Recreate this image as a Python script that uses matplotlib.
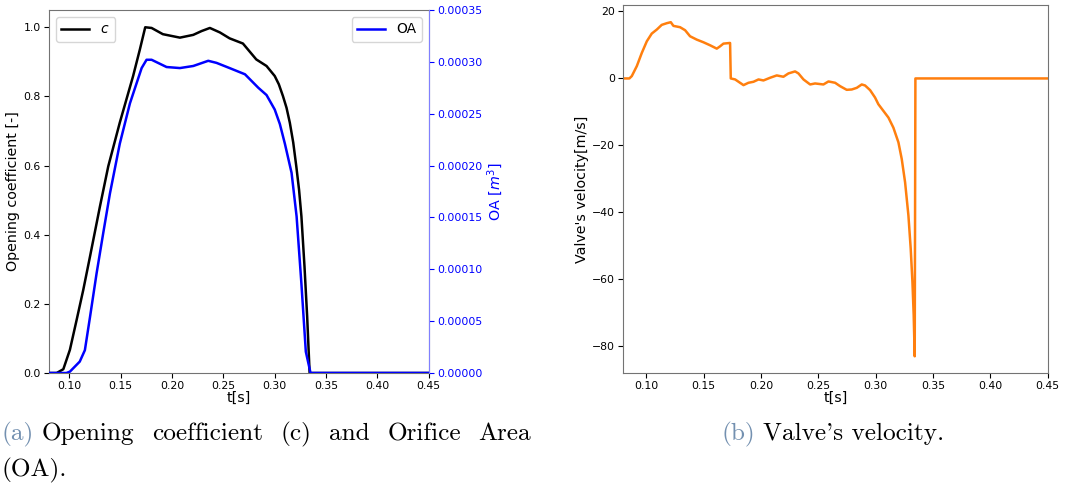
import numpy as np
import matplotlib
matplotlib.use('Agg')
import matplotlib.pyplot as plt

# opening coefficient c [-]
t_c = [0.08, 0.0875, 0.094, 0.1004, 0.107, 0.1134, 0.12, 0.1297, 0.1378, 0.149,
       0.162, 0.1686, 0.1738, 0.18, 0.191, 0.2076, 0.2206, 0.2287, 0.2368, 0.2466,
       0.256, 0.269, 0.282, 0.292, 0.300, 0.304, 0.308, 0.3115, 0.3147, 0.318,
       0.321, 0.3237, 0.326, 0.329, 0.3316, 0.334, 0.45]
c = [0.0, 0.0, 0.011, 0.067, 0.154, 0.24, 0.337, 0.482, 0.598, 0.724,
     0.859, 0.936, 1.0, 0.998, 0.98, 0.970, 0.978, 0.989, 0.998, 0.985,
     0.968, 0.953, 0.907, 0.888, 0.859, 0.835, 0.801, 0.767, 0.724, 0.667,
     0.598, 0.530, 0.453, 0.308, 0.163, 0.0, 0.0]

# orifice area OA [m^3]
t_oa = [0.08, 0.097, 0.1004, 0.110, 0.115, 0.12, 0.1264, 0.1329, 0.1394, 0.149,
        0.1589, 0.1703, 0.1751, 0.18, 0.1946, 0.2076, 0.2206, 0.2352, 0.2433, 0.256,
        0.271, 0.284, 0.292, 0.300, 0.305, 0.3099, 0.3164, 0.3213, 0.326, 0.3303,
        0.3349, 0.45]
oa = [0.0, 0.0, 1.3e-6, 1.1e-5, 2.2e-5, 5.4e-5, 9.6e-5, 1.35e-4, 1.73e-4, 2.21e-4,
      2.6e-4, 2.94e-4, 3.02e-4, 3.02e-4, 2.95e-4, 2.94e-4, 2.96e-4, 3.01e-4, 2.99e-4, 2.94e-4,
      2.88e-4, 2.75e-4, 2.68e-4, 2.54e-4, 2.40e-4, 2.21e-4, 1.93e-4, 1.51e-4, 8.6e-5, 2.05e-5,
      0.0, 0.0]

# valve velocity [m/s]
t_v = [0.08, 0.0852, 0.0873, 0.0917, 0.0960, 0.1004, 0.1047, 0.1091, 0.1134, 0.1178,
       0.1213, 0.1236, 0.1294, 0.1338, 0.1381, 0.1439, 0.1498, 0.1556, 0.1614, 0.1643,
       0.1672, 0.1730, 0.1736, 0.1774, 0.1847, 0.189, 0.1934, 0.1978, 0.2021, 0.2079,
       0.2137, 0.2195, 0.2239, 0.2297, 0.2326, 0.2370, 0.2428, 0.2471, 0.2544, 0.2588,
       0.2646, 0.2689, 0.2747, 0.2791, 0.2835, 0.2878, 0.2907, 0.2951, 0.2994, 0.3023,
       0.3067, 0.3111, 0.3154, 0.3198, 0.3227, 0.3256, 0.3285, 0.3305, 0.3320, 0.3331,
       0.3340, 0.3346, 0.45]
v = [0.0, 0.0, 0.7, 3.7, 7.6, 11.1, 13.4, 14.6, 16.0, 16.5,
     16.8, 15.7, 15.3, 14.4, 12.6, 11.6, 10.8, 9.9, 8.9, 9.6,
     10.4, 10.6, 0.0, -0.3, -2.0, -1.3, -1.0, -0.3, -0.6, 0.2,
     0.9, 0.5, 1.5, 2.1, 1.5, -0.3, -1.8, -1.5, -1.8, -0.9,
     -1.3, -2.3, -3.4, -3.3, -2.8, -1.8, -2.1, -3.5, -5.7, -7.7,
     -9.7, -11.7, -14.7, -19.1, -24.1, -31.0, -40.9, -50.8, -60.7, -70.6,
     -83.0, 0.0, 0.0]

# first caption line is justified between these two edges (px)
cap_a_words = ['Opening', 'coefficient', '(c)', 'and', 'Orifice', 'Area']
cap_a_left, cap_a_right = 42, 531

W, H = 1088, 499
fig = plt.figure(figsize=(W / 100, H / 100), dpi=100)
ax1 = fig.add_axes([0.045, 0.2525, 0.349, 0.7275])
ax2 = ax1.twinx()
ax3 = fig.add_axes([0.573, 0.2525, 0.390, 0.7365])

tick_fs = 7.8
label_fs = 10.3

ax1.plot(t_c, c, color='black', lw=1.8, label='$c$')
ax1.set_xlim(0.08, 0.45)
ax1.set_ylim(0, 1.05)
ax1.set_xticks(np.arange(0.10, 0.451, 0.05))
ax1.set_xlabel('t[s]', fontsize=label_fs, labelpad=0)
ax1.set_ylabel('Opening coefficient [-]', fontsize=label_fs, labelpad=2)
ax1.tick_params(labelsize=tick_fs, pad=2.5)
ax1.legend(loc='upper left', fontsize=10)

ax2.plot(t_oa, oa, color='blue', lw=1.8, label='OA')
ax2.set_ylim(0, 0.00035)
ax2.set_yticks(np.arange(0, 0.000351, 0.00005))
ax2.yaxis.set_major_formatter(matplotlib.ticker.FormatStrFormatter('%.5f'))
ax2.set_ylabel('OA [$m^3$]', color='blue', fontsize=label_fs, labelpad=2)
ax2.tick_params(axis='y', colors='blue', labelsize=tick_fs, pad=2.5)
ax2.spines['right'].set_color('#8080ff')
ax2.legend(loc='upper right', fontsize=10)

ax3.plot(t_v, v, color='#ff7f0e', lw=1.8)
ax3.set_xlim(0.08, 0.45)
ax3.set_xticks(np.arange(0.10, 0.451, 0.05))
ax3.set_xlabel('t[s]', fontsize=label_fs, labelpad=0)
ax3.set_ylabel("Valve's velocity[m/s]", fontsize=label_fs, labelpad=2)
ax3.tick_params(labelsize=tick_fs, pad=2.5)

for a in (ax1, ax3):
    for side in ('left', 'top', 'bottom', 'right'):
        a.spines[side].set_color('0.45')
for side in ('left', 'top', 'bottom'):
    ax2.spines[side].set_visible(False)

cap_kw = dict(family=['cmr10', 'DejaVu Serif'], fontsize=18.2, va='center')
y1 = 1 - 434 / H
y2 = 1 - 470 / H
fig.text(1 / W, y1, '(a)', color='#7390b0', **cap_kw)
fig.text(1 / W, y2, '(OA).', **cap_kw)
fig.text(721 / W, y1, '(b)', color='#7390b0', **cap_kw)
fig.text(763 / W, y1, "Valve's velocity.", **cap_kw)

# spread the words of the first line evenly, like a justified paragraph
renderer = fig.canvas.get_renderer()
words = [fig.text(0, y1, w, **cap_kw) for w in cap_a_words]
widths = [t.get_window_extent(renderer).width for t in words]
gap = (cap_a_right - cap_a_left - sum(widths)) / (len(words) - 1)
xp = cap_a_left
for t, wd in zip(words, widths):
    t.set_x(xp / W)
    xp += wd + gap

fig.savefig('out.png', dpi=100)
